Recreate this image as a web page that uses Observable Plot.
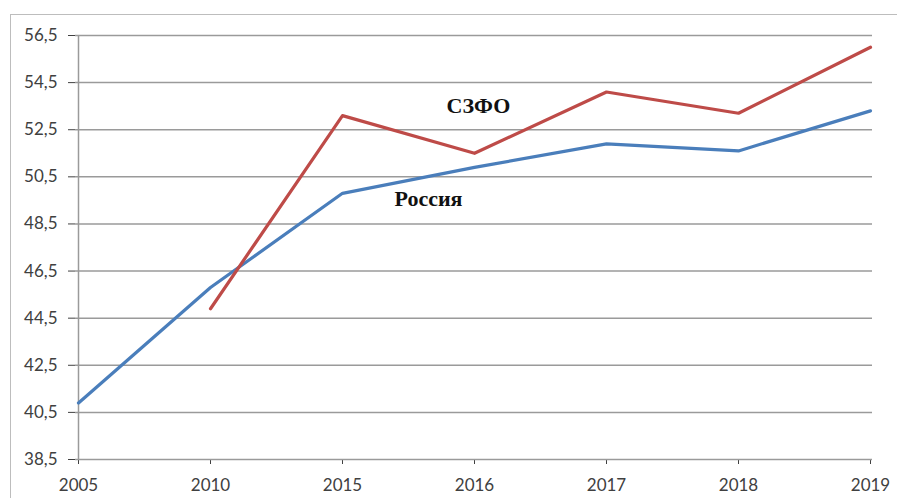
<!DOCTYPE html>
<html>
<head>
<meta charset="utf-8">
<script src="https://cdn.jsdelivr.net/npm/d3@7"></script>
<script src="https://cdn.jsdelivr.net/npm/@observablehq/plot@0.6"></script>
<style>
  html, body { margin: 0; padding: 0; background: #fff; overflow: hidden; }
  #wrap { position: relative; width: 897px; height: 498px; }
  #frame { position: absolute; left: 10px; top: 14px; width: 920px; height: 520px; border: 1.5px solid #bdbdbd; box-sizing: border-box; pointer-events: none; }
  #chart { position: absolute; left: 0; top: 0; }
</style>
</head>
<body>
<div id="wrap"><div id="frame"></div><div id="chart"></div></div>
<script>
const years = ["2005", "2010", "2015", "2016", "2017", "2018", "2019"];
const russia = [40.9, 45.8, 49.8, 50.9, 51.9, 51.6, 53.3];
const szfo = [null, 44.9, 53.1, 51.5, 54.1, 53.2, 56.0];
const yTicks = [38.5, 40.5, 42.5, 44.5, 46.5, 48.5, 50.5, 52.5, 54.5, 56.5];

const russiaData = years.map((year, i) => ({year, value: russia[i]})).filter(d => d.value != null);
const szfoData = years.map((year, i) => ({year, value: szfo[i]})).filter(d => d.value != null);

const fmt = d => d.toFixed(1).replace(".", ",");

const chart = Plot.plot({
  width: 897,
  height: 498,
  marginLeft: 75,
  marginRight: 25,
  marginTop: 35,
  marginBottom: 39,
  style: { fontFamily: "Lato, 'Open Sans', sans-serif", fontSize: "17px", color: "#404040", background: "transparent" },
  x: { type: "point", domain: years, padding: 0, tickSize: 5, tickPadding: 14, label: null },
  y: { domain: [38.5, 56.5], ticks: yTicks, tickFormat: fmt, tickSize: 7, tickPadding: 11, label: null },
  marks: [
    Plot.ruleY(yTicks, { stroke: "#9a9a9a", strokeWidth: 1.5 }),
    Plot.ruleX([years[0]], { stroke: "#9a9a9a", strokeWidth: 1.5 }),
    Plot.line(russiaData, { x: "year", y: "value", stroke: "#4a7ebb", strokeWidth: 3.2 }),
    Plot.line(szfoData, { x: "year", y: "value", stroke: "#be4b48", strokeWidth: 3.2 }),
    Plot.text(["СЗФО"], { x: () => "2016", y: () => 53.5, dx: 4, text: d => d, fontFamily: "'Liberation Serif', serif", fontWeight: "bold", fontSize: 22, fill: "#111" }),
    Plot.text(["Россия"], { x: () => "2016", y: () => 49.55, dx: -46, text: d => d, fontFamily: "'Liberation Serif', serif", fontWeight: "bold", fontSize: 22, fill: "#111" })
  ]
});
document.getElementById("chart").appendChild(chart);
</script>
</body>
</html>
